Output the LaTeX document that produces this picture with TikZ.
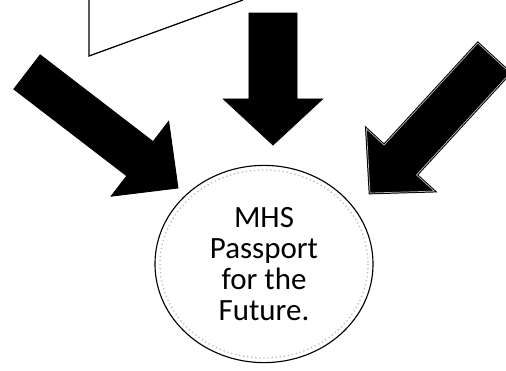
\documentclass[tikz,border=0pt]{standalone}
\usepackage{fontspec}
\setmainfont{Carlito}
\usetikzlibrary{calc,shapes.geometric}
\begin{document}
\begin{tikzpicture}[x=0.025cm, y=-0.025cm,
  blockarrow/.style={fill=black, draw=black, line width=0.6pt, line join=miter},
  bevelled/.style={double=gray!55, double distance=0.5pt, line width=0.7pt}]
\useasboundingbox (0,0) rectangle (506,370);
\clip (0,0) rectangle (506,370);
% the frame cut off at the top
\draw[line width=0.9pt] (89,0) -- (89,56) -- (243,0);
% where the arrows start and end
\coordinate (midtail) at (273,13);
\coordinate (midtip) at (273,145);
\coordinate (lefttail) at (27,72);
\coordinate (lefttip) at (178,188);
\coordinate (righttail) at (494,58);
\coordinate (righttip) at (370,193);
\foreach \a/\s/\w/\h in {mid/0.6/1.24/1.15, left/0.54/1.18/1.2}
  \filldraw[blockarrow] ($(\a tail)!\s cm!90:(\a tip)$)
    -- ($($(\a tip)!\h cm!(\a tail)$)!\s cm!-90:(\a tail)$)
    -- ($($(\a tip)!\h cm!(\a tail)$)!\w cm!-90:(\a tail)$)
    -- (\a tip)
    -- ($($(\a tip)!\h cm!(\a tail)$)!\w cm!90:(\a tail)$)
    -- ($($(\a tip)!\h cm!(\a tail)$)!\s cm!90:(\a tail)$)
    -- ($(\a tail)!\s cm!-90:(\a tip)$) -- cycle;
\filldraw[blockarrow, bevelled] ($(righttail)!0.55cm!90:(righttip)$)
  -- ($($(righttip)!1.12cm!(righttail)$)!0.55cm!-90:(righttail)$)
  -- ($($(righttip)!1.12cm!(righttail)$)!1.15cm!-90:(righttail)$)
  -- (righttip)
  -- ($($(righttip)!1.12cm!(righttail)$)!1.15cm!90:(righttail)$)
  -- ($($(righttip)!1.12cm!(righttail)$)!0.55cm!90:(righttail)$)
  -- ($(righttail)!0.55cm!-90:(righttip)$) -- cycle;
% the circle in the middle
\node[draw, ellipse, line width=0.8pt, minimum width=5.45cm, minimum height=4.93cm,
  inner sep=0pt, align=center, font=\fontsize{22}{22}\selectfont] (passport) at (264,264)
  {MHS\\Passport\\for the\\Future.};
\draw[gray!55, dotted, line width=0.9pt] (passport.center) ellipse (104 and 94);
\end{tikzpicture}
\end{document}
